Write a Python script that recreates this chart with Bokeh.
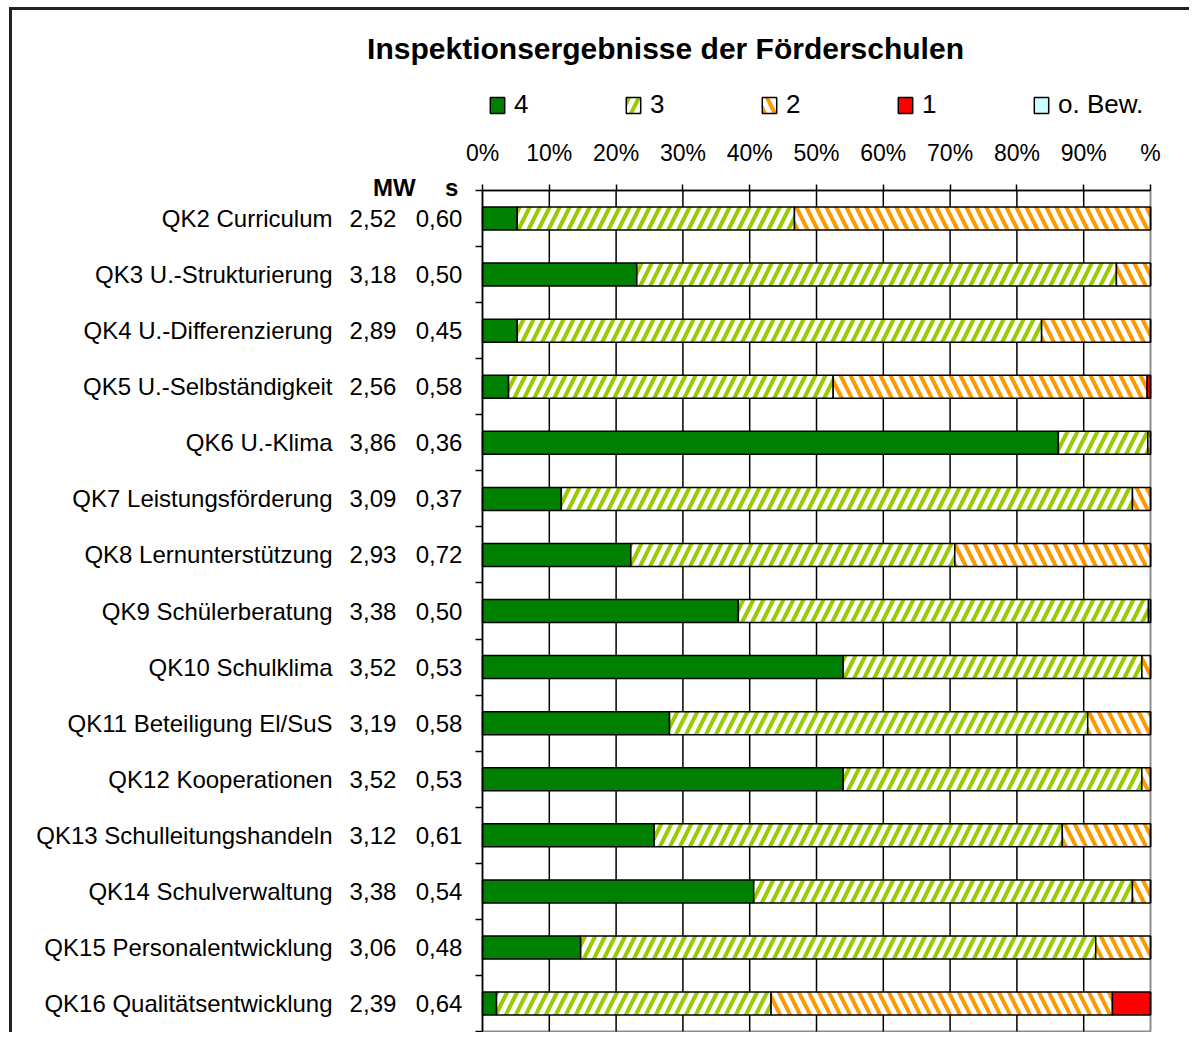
from bokeh.plotting import figure
from bokeh.models import (ColumnDataSource, Range1d, FixedTicker, Legend, LegendItem)
from bokeh.core.properties import value
from bokeh.embed import file_html
from bokeh.resources import INLINE

# ---------------- data ----------------
categories = ["QK2 Curriculum", "QK3 U.-Strukturierung", "QK4 U.-Differenzierung",
              "QK5 U.-Selbständigkeit", "QK6 U.-Klima", "QK7 Leistungsförderung",
              "QK8 Lernunterstützung", "QK9 Schülerberatung", "QK10 Schulklima",
              "QK11 Beteiligung El/SuS", "QK12 Kooperationen", "QK13 Schulleitungshandeln",
              "QK14 Schulverwaltung", "QK15 Personalentwicklung", "QK16 Qualitätsentwicklung"]
mw = ["2,52", "3,18", "2,89", "2,56", "3,86", "3,09", "2,93", "3,38", "3,52",
      "3,19", "3,52", "3,12", "3,38", "3,06", "2,39"]
sd = ["0,60", "0,50", "0,45", "0,58", "0,36", "0,37", "0,72", "0,50", "0,53",
      "0,58", "0,53", "0,61", "0,54", "0,48", "0,64"]
val4 = [5.2, 23.1, 5.2, 3.9, 86.2, 11.8, 22.2, 38.3, 54.0, 28.0, 54.0, 25.7, 40.6, 14.7, 2.1]
val3 = [41.5, 71.8, 78.5, 48.6, 13.4, 85.5, 48.5, 61.4, 44.7, 62.6, 44.7, 61.1, 56.7, 77.1, 41.1]
val2 = [53.3, 5.1, 16.3, 47.0, 0.4, 2.7, 29.3, 0.3, 1.3, 9.4, 1.3, 13.2, 2.7, 8.2, 51.1]
val1 = [0, 0, 0, 0.5, 0, 0, 0, 0, 0, 0, 0, 0, 0, 0, 5.7]
val_ob = [0] * 15
series_names = ["4", "3", "2", "1", "o. Bew."]
header_labels = ["MW", "s"]
x_ticks = [0, 10, 20, 30, 40, 50, 60, 70, 80, 90, 100]
x_tick_labels = ["0%", "10%", "20%", "30%", "40%", "50%", "60%", "70%", "80%", "90%", "%"]
title_text = "Inspektionsergebnisse der Förderschulen"

# ---------------- figure ----------------
n = len(categories)
W, H = 1180, 1025
x_lo = -70.36
x_hi = x_lo + W / 6.68
p = figure(width=W, height=H, output_backend="svg", toolbar_location=None,
           x_range=Range1d(x_lo, x_hi), y_range=Range1d(14.57, -3.71),
           x_axis_location="above", min_border=0)
p.styles = {"margin-left": "9px", "margin-top": "7px",
            "border-left": "3px solid #222222", "border-top": "3px solid #222222"}
p.outline_line_color = None
p.background_fill_color = "white"
p.border_fill_color = "white"
p.xgrid.grid_line_color = None
p.ygrid.grid_line_color = None

top = -0.5
bottom = n - 0.5

# x axis on top, pinned to the top of the bar area
xa = p.xaxis[0]
xa.fixed_location = top
xa.bounds = (x_ticks[0], x_ticks[-1])
xa.ticker = FixedTicker(ticks=x_ticks)
xa.major_label_overrides = {t: l for t, l in zip(x_ticks, x_tick_labels)}
xa.major_label_text_font = "Liberation Sans"
xa.major_label_text_font_size = "23px"
xa.major_label_text_color = "black"
xa.major_label_standoff = 18
xa.axis_line_color = "black"
xa.axis_line_width = 1.5
xa.major_tick_line_color = "black"
xa.major_tick_line_width = 1.5
xa.major_tick_out = 6
xa.major_tick_in = 0
xa.minor_tick_line_color = None

# y axis pinned at 0 %, ticks at category boundaries
ya = p.yaxis[0]
ya.fixed_location = x_ticks[0]
ya.bounds = (top, bottom)
ya.ticker = FixedTicker(ticks=[], minor_ticks=[i - 0.5 for i in range(n + 1)])
ya.axis_line_color = "black"
ya.axis_line_width = 1.5
ya.major_tick_line_color = None
ya.minor_tick_line_color = "black"
ya.minor_tick_line_width = 1.5
ya.minor_tick_out = 7
ya.minor_tick_in = 0

# plot-area border (grey) and vertical grid lines
p.quad(left=[x_ticks[0]], right=[x_ticks[-1]], top=[top], bottom=[bottom],
       fill_color=None, line_color="#8c8c8c", line_width=2)
gx = x_ticks[1:-1]
p.segment(x0=gx, x1=gx, y0=[top] * len(gx), y1=[bottom] * len(gx),
          line_color="black", line_width=1.5)

# ---------------- stacked bars ----------------
styles = [
    dict(fill_color="#008000"),
    dict(fill_color="white", hatch_pattern="/", hatch_color="#99cc00", hatch_scale=20, hatch_weight=4),
    dict(fill_color="white", hatch_pattern="\\", hatch_color="#ff9900", hatch_scale=20, hatch_weight=4),
    dict(fill_color="#ff0000"),
    dict(fill_color="#ccffff"),
]
all_vals = [val4, val3, val2, val1, val_ob]
cum = [0.0] * n
items = []
bar_h = 0.41
for k, (name, vals, st) in enumerate(zip(series_names, all_vals, styles)):
    ys, ls, rs = [], [], []
    last = (k == len(series_names) - 1)
    for i in range(n):
        if vals[i] > 0 or last:
            ys.append(i)
            ls.append(cum[i])
            rs.append(cum[i] + vals[i])
        cum[i] += vals[i]
    src = ColumnDataSource(dict(y=ys, left=ls, right=rs))
    r = p.hbar(y="y", left="left", right="right", height=bar_h, source=src,
               line_color="black", line_width=1.5, **st)
    items.append(LegendItem(label=name, renderers=[r]))

legend = Legend(items=items, orientation="horizontal", location=(476, 915),
                spacing=90, padding=0, margin=0, glyph_width=18, glyph_height=20,
                label_standoff=8, label_text_font="Liberation Sans",
                label_text_font_size="26px", label_text_color="black",
                border_line_color=None, background_fill_alpha=0)
p.add_layout(legend, "center")

# ---------------- left-side labels ----------------
rows = list(range(n))
txt = dict(text_align="right", text_baseline="middle", text_font=value("Liberation Sans"),
           text_font_size=value("24px"), text_color="black")
p.text(x=[-22.45] * n, y=rows, text=categories, **txt)
p.text(x=[-12.9] * n, y=rows, text=mw, **txt)
p.text(x=[-3.0] * n, y=rows, text=sd, **txt)

p.text(x=[-10.0, -3.6], y=[-0.56, -0.56], text=header_labels, text_align="right",
       text_baseline="middle", text_font=value("Liberation Sans"),
       text_font_size=value("24px"), text_font_style="bold", text_color="black")

p.text(x=[27.4], y=[-3.03], text=[title_text], text_align="center", text_baseline="middle",
       text_font=value("Liberation Sans"), text_font_size=value("30px"),
       text_font_style="bold", text_color="black")

open("out.html", "w").write(file_html(p, INLINE))
